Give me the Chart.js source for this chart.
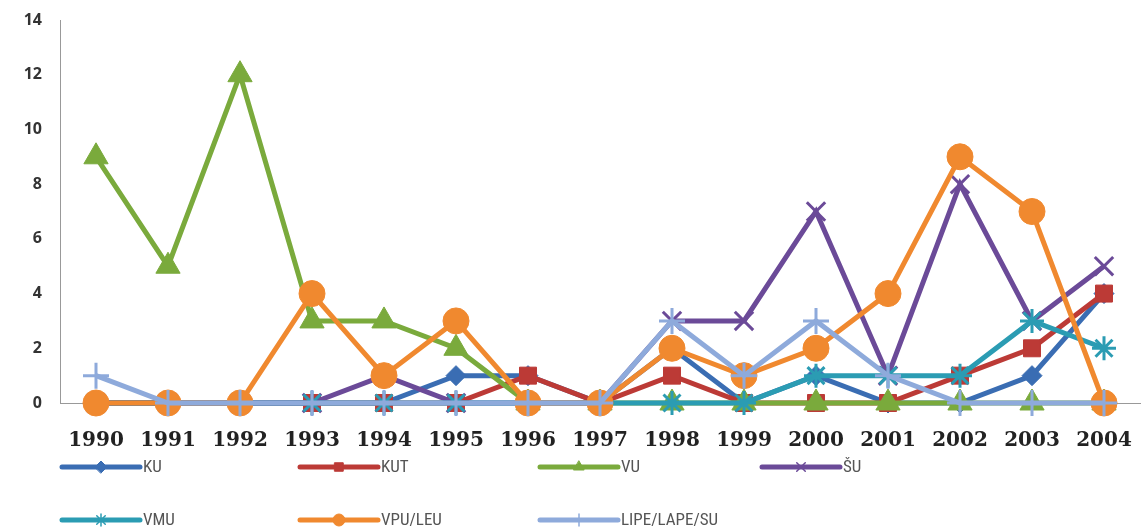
<!DOCTYPE html>
<html>
<head>
<meta charset="utf-8">
<script src="https://cdn.jsdelivr.net/npm/chart.js@4"></script>
<style>
  html, body { margin: 0; background: #fff; overflow: hidden; }
  #wrap { width: 1143px; height: 530px; position: relative; }
  canvas { display: block; }
</style>
</head>
<body>
<div id="wrap"><canvas id="chart"></canvas></div>
<script>
const years = ["1990", "1991", "1992", "1993", "1994", "1995", "1996", "1997", "1998", "1999", "2000", "2001", "2002", "2003", "2004"];
const yTicks = [0, 2, 4, 6, 8, 10, 12, 14];

const ku   = [0, 0, 0, 0, 0, 1, 1, 0, 2, 0, 1, 0, 0, 1, 4];
const kut  = [0, 0, 0, 0, 0, 0, 1, 0, 1, 0, 0, 0, 1, 2, 4];
const vu   = [9, 5, 12, 3, 3, 2, 0, 0, 0, 0, 0, 0, 0, 0, 0];
const su   = [0, 0, 0, 0, 1, 0, 0, 0, 3, 3, 7, 1, 8, 3, 5];
const vmu  = [0, 0, 0, 0, 0, 0, 0, 0, 0, 0, 1, 1, 1, 3, 2];
const vpu  = [0, 0, 0, 4, 1, 3, 0, 0, 2, 1, 2, 4, 9, 7, 0];
const lipe = [1, 0, 0, 0, 0, 0, 0, 0, 3, 1, 3, 1, 0, 0, 0];

const seriesNames = ["KU", "KUT", "VU", "ŠU", "VMU", "VPU/LEU", "LIPE/LAPE/SU"];
const seriesData = [ku, kut, vu, su, vmu, vpu, lipe];
const colors = ["#3A6DB3", "#BC3A36", "#7AAA3C", "#6B4A98", "#2B9CB3", "#F0892F", "#8EAADB"];
const styles = ["rectRot", "rect", "triangle", "crossRot", "star", "circle", "cross"];
const radii = [10, 12, 14, 13, 12, 13, 13];
const isStroke = s => s === "crossRot" || s === "cross" || s === "star";

const datasets = seriesNames.map((name, i) => ({
  label: name,
  data: seriesData[i],
  borderColor: colors[i],
  backgroundColor: colors[i],
  borderWidth: 5,
  pointStyle: styles[i],
  pointRadius: radii[i],
  pointBorderWidth: isStroke(styles[i]) ? 3 : 1,
  pointBorderColor: colors[i],
  pointBackgroundColor: colors[i],
  tension: 0,
  clip: false,
  order: 7 - i
}));

// legend laid out in two rows like the original
const legendPlugin = {
  id: "gridLegend",
  afterDraw(chart) {
    const ctx = chart.ctx;
    const cols = [62, 300, 540, 762];
    const rows = [467, 520];
    ctx.save();
    chart.data.datasets.forEach((ds, i) => {
      const x = cols[i % 4];
      const y = rows[Math.floor(i / 4)];
      ctx.strokeStyle = ds.borderColor;
      ctx.fillStyle = ds.borderColor;
      ctx.lineWidth = 5;
      ctx.lineCap = "round";
      ctx.beginPath();
      ctx.moveTo(x, y);
      ctx.lineTo(x + 78, y);
      ctx.stroke();
      ctx.lineWidth = isStroke(ds.pointStyle) ? 1.5 : 1;
      Chart.helpers.drawPoint(ctx, {
        pointStyle: ds.pointStyle,
        radius: 6,
        borderWidth: ctx.lineWidth
      }, x + 39, y);
      ctx.fillStyle = "#555";
      ctx.font = "17px 'Liberation Sans Narrow', 'Roboto Condensed', 'Liberation Sans', sans-serif";
      ctx.textBaseline = "middle";
      ctx.textAlign = "left";
      ctx.fillText(ds.label, x + 81, y + 1);
    });
    ctx.restore();
  }
};

new Chart(document.getElementById("chart"), {
  type: "line",
  data: { labels: years, datasets: datasets },
  options: {
    responsive: true,
    maintainAspectRatio: false,
    animation: false,
    layout: { autoPadding: false, padding: { top: 20, right: 3, bottom: 0, left: 0 } },
    plugins: {
      legend: { display: false },
      tooltip: { enabled: false }
    },
    scales: {
      x: {
        offset: true,
        grid: { display: false, drawTicks: true, tickLength: 24, tickColor: "rgba(0,0,0,0)" },
        border: { display: true, color: "#999", width: 1 },
        ticks: {
          padding: 2,
          maxRotation: 0,
          autoSkip: false,
          color: "#222",
          font: { family: "'DejaVu Serif', serif", size: 20, weight: "bold" }
        },
        afterFit(scale) {
          scale.height = 127;
          scale.paddingLeft = 0;
          scale.paddingRight = 0;
        }
      },
      y: {
        min: 0,
        max: 14,
        afterBuildTicks(scale) { scale.ticks = yTicks.map(v => ({ value: v })); },
        grid: { display: false, drawTicks: false },
        border: { display: true, color: "#999", width: 1 },
        ticks: {
          padding: 18,
          color: "#333",
          font: { family: "'Open Sans', sans-serif", size: 16, weight: "bold" }
        },
        afterFit(scale) {
          scale.width = 60;
          scale.paddingTop = 0;
          scale.paddingBottom = 0;
        }
      }
    }
  },
  plugins: [legendPlugin]
});
</script>
</body>
</html>
